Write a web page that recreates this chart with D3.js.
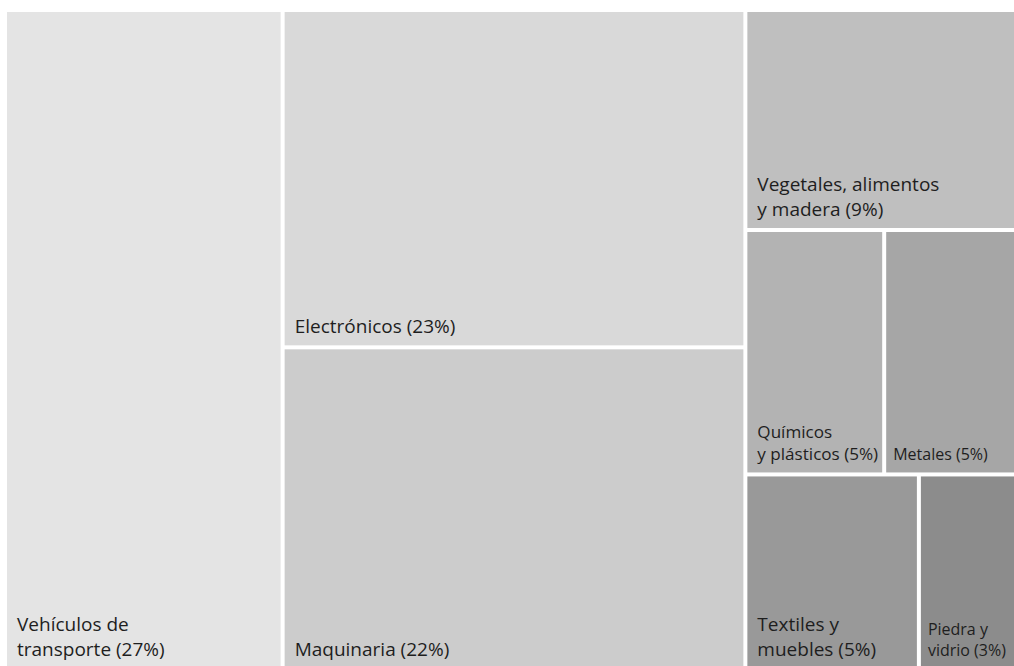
<!DOCTYPE html>
<html lang="es">
<head>
<meta charset="utf-8">
<title>Exportaciones por sector</title>
<script src="https://cdn.jsdelivr.net/npm/d3@7"></script>
<style>
  html, body { margin: 0; padding: 0; background: #ffffff; }
  svg { display: block; }
  text { font-family: "Open Sans", "Noto Sans", sans-serif; fill: #1e1e1e; }
</style>
</head>
<body>
<svg id="chart" width="1014" height="666"></svg>
<script>
// Sectors, their share of exports (%), and how the blocks nest.
const categories = [
  "Vehículos de transporte",
  "Electrónicos",
  "Maquinaria",
  "Vegetales, alimentos y madera",
  "Químicos y plásticos",
  "Metales",
  "Textiles y muebles",
  "Piedra y vidrio"
];
const shares = [27, 23, 22, 9, 5, 5, 5, 3];
// Block path of each sector: top-level column / row inside it
const blocks = ["c1", "c2", "c2", "c3", "c3/r2", "c3/r2", "c3/r3", "c3/r3"];
// Label lines; the share is appended to the last one
const labelLines = [
  ["Vehículos de", "transporte"],
  ["Electrónicos"],
  ["Maquinaria"],
  ["Vegetales, alimentos", "y madera"],
  ["Químicos", "y plásticos"],
  ["Metales"],
  ["Textiles y", "muebles"],
  ["Piedra y", "vidrio"]
];

// Styling: fill per sector and which labels use the compact type size
const greys = ["#e4e4e4", "#d9d9d9", "#cccccc", "#bfbfbf", "#b3b3b3", "#a6a6a6", "#999999", "#8c8c8c"];
const compactLabel = [false, false, false, false, false, true, false, true];

// Build the nested tree from the block paths
const tree = { name: "root", children: [] };
categories.forEach((name, i) => {
  let parent = tree;
  const path = blocks[i].split("/");
  // a sector alone in its top-level column sits directly under the root
  const alone = blocks.filter(b => b.split("/")[0] === path[0]).length === 1;
  if (!alone) {
    path.forEach(key => {
      let child = parent.children.find(c => c.key === key);
      if (!child) { child = { key, children: [] }; parent.children.push(child); }
      parent = child;
    });
  }
  parent.children.push({ name, value: shares[i], index: i });
});

const root = d3.hierarchy(tree).sum(d => d.value || 0);

// Alternate horizontal and vertical cuts at each nesting level
const tile = (node, x0, y0, x1, y1) =>
  (node.depth % 2 === 0 ? d3.treemapDice : d3.treemapSlice)(node, x0, y0, x1, y1);

d3.treemap()
  .size([1014, 656])
  .tile(tile)
  .paddingInner(4)
  .round(false)(root);

const color = d3.scaleOrdinal().domain(d3.range(categories.length)).range(greys);

const svg = d3.select("#chart");
const g = svg.append("g").attr("transform", "translate(7,12)");

const leaf = g.selectAll("g.leaf")
  .data(root.leaves())
  .join("g")
  .attr("class", "leaf")
  .attr("transform", d => `translate(${d.x0},${d.y0})`);

leaf.append("rect")
  .attr("width", d => d.x1 - d.x0)
  .attr("height", d => d.y1 - d.y0)
  .attr("fill", d => color(d.data.index));

leaf.each(function (d) {
  const i = d.data.index;
  const w = d.x1 - d.x0;
  const small = compactLabel[i];
  const inset = small ? 7 : 10;
  let fs = small ? 16 : 19;
  const lines = labelLines[i].slice();
  lines[lines.length - 1] += ` (${shares[i]}%)`;
  const bottom = d.y1 - d.y0 - 12;
  const t = d3.select(this).append("text").attr("font-size", fs);
  const spans = lines.map(line => t.append("tspan").attr("x", inset).text(line));

  // Shrink the type when the widest line would run past the cell edge
  // (except in the last column, where text may run off the page edge)
  const widest = d3.max(spans, s => s.node().getComputedTextLength());
  const room = w - inset - 4;
  if (widest > room && d.x1 < 1000) {
    fs = Math.max(12, fs * room / widest);
    t.attr("font-size", fs);
  }
  const lh = fs * 1.3;
  spans.forEach((s, k) => s.attr("y", bottom - (lines.length - 1 - k) * lh));
});
</script>
</body>
</html>
